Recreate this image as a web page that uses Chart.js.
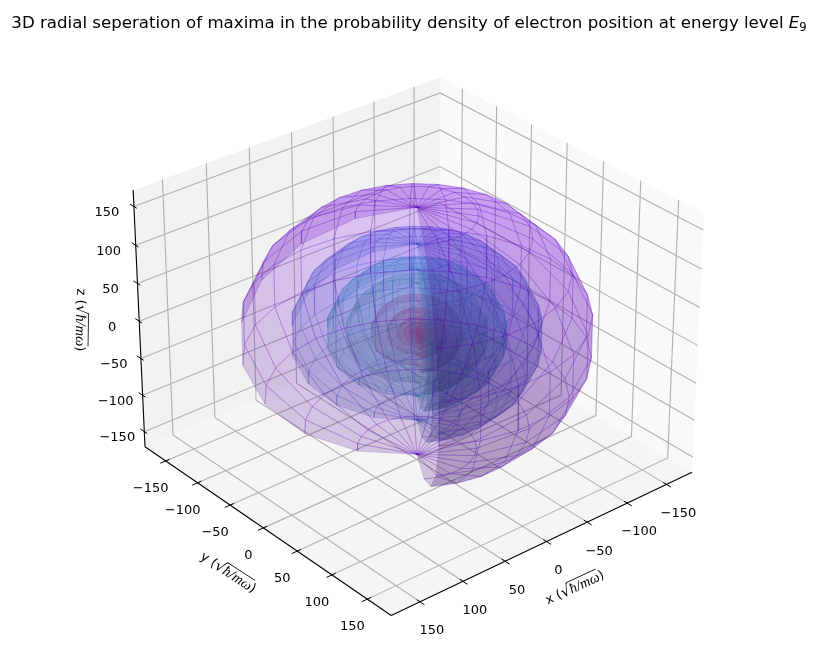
<!DOCTYPE html>
<html>
<head>
<meta charset="utf-8">
<title>Radial maxima</title>
<script src="https://cdn.jsdelivr.net/npm/chart.js@4/dist/chart.umd.min.js"></script>
<style>
  html, body { margin: 0; padding: 0; background: #fff; }
  canvas { display: block; }
</style>
</head>
<body>
<canvas id="chart_canvas" width="816" height="660"></canvas>
<script>
const title_text = "3D radial seperation of maxima in the probability density of electron position at energy level";
const tick_values = [-150, -100, -50, 0, 50, 100, 150];

// shell radii, outer to inner
const shell_radii = [164, 117, 84, 66, 43, 28, 18, 12, 7, 3];
const shell_colors = [
    [128, 0, 255], [60, 110, 255], [30, 205, 215], [140, 225, 170], [245, 110, 110],
    [255, 60, 70], [255, 50, 60], [255, 30, 40], [255, 0, 0], [255, 0, 0]
];
const shell_edge_widths = [0.8, 0.7, 0.6, 0.5, 0.4, 0.4, 0.3, 0.3, 0.3, 0.3];
const shell_alpha = 0.2;
const edge_alpha = 0.24;
const edge_dim = 0.72;
const phi_start_deg = 57;
const phi_span_deg = 270;
const phi_steps = 20;
const lat_steps = 9;

const x_lim = [-183, 183];
const y_lim = [-183, 183];
const z_lim = [-171, 171];
const box_aspect = [4, 4, 3];
const elev_deg = 30;
const azim_deg = 50;
const light_dir = [-0.667, -0.667, 0.333];

const title_pad = 14;
const title_size = 16.64;
const title_h = title_pad * 2 + title_size * 1.2;

// ---- mplot3d style camera ----
const aspect_norm = Math.hypot(box_aspect[0], box_aspect[1], box_aspect[2]);
const box = box_aspect.map(a => a * 1.8294640721620434 / aspect_norm);
const el = elev_deg * Math.PI / 180, az = azim_deg * Math.PI / 180;
const cam_dist = 10;
const fwd = [Math.cos(el) * Math.cos(az), Math.cos(el) * Math.sin(az), Math.sin(el)];
const right_v = norm3(cross3([0, 0, 1], fwd));
const up_v = cross3(fwd, right_v);

function cross3(a, b) {
    return [a[1] * b[2] - a[2] * b[1], a[2] * b[0] - a[0] * b[2], a[0] * b[1] - a[1] * b[0]];
}
function norm3(a) {
    const n = Math.hypot(a[0], a[1], a[2]);
    return [a[0] / n, a[1] / n, a[2] / n];
}
function dot3(a, b) {
    return a[0] * b[0] + a[1] * b[1] + a[2] * b[2];
}

function project_raw(x, y, z) {
    const p = [
        ((x - x_lim[0]) / (x_lim[1] - x_lim[0]) - 0.5) * box[0],
        ((y - y_lim[0]) / (y_lim[1] - y_lim[0]) - 0.5) * box[1],
        ((z - z_lim[0]) / (z_lim[1] - z_lim[0]) - 0.5) * box[2]
    ];
    const w = cam_dist - dot3(p, fwd);
    return { u: dot3(p, right_v) / w, v: dot3(p, up_v) / w, depth: w };
}

// fit to where the two lower box corners sit in the picture
const corner_a = project_raw(x_lim[1], y_lim[0], z_lim[0]);
const corner_b = project_raw(x_lim[0], y_lim[1], z_lim[0]);
const px_scale = (692 - 145) / (corner_b.u - corner_a.u);
const px_off_x = 145 - corner_a.u * px_scale;
const px_off_y = (447 + 472) / 2 + (corner_a.v + corner_b.v) / 2 * px_scale;

function to_screen(x, y, z) {
    const r = project_raw(x, y, z);
    return { x: px_off_x + r.u * px_scale, y: px_off_y - r.v * px_scale, depth: r.depth };
}

function line_set(points3d, color, width) {
    return {
        data: points3d.map(p => { const s = to_screen(p[0], p[1], p[2]); return { x: s.x, y: s.y }; }),
        showLine: true, fill: false, borderColor: color, borderWidth: width, pointRadius: 0
    };
}
function poly_set(points3d, fill_color, edge_color, width) {
    const s = line_set(points3d, edge_color, width);
    s.fill = 'shape';
    s.backgroundColor = fill_color;
    return s;
}

// painter's order: first pushed is at the bottom
const layers = [];
const [x0, x1] = x_lim, [y0, y1] = y_lim, [z0, z1] = z_lim;

layers.push(poly_set([[x0, y0, z0], [x0, y1, z0], [x0, y1, z1], [x0, y0, z1], [x0, y0, z0]], 'rgb(249,249,249)', 'rgb(249,249,249)', 0));
layers.push(poly_set([[x0, y0, z0], [x1, y0, z0], [x1, y0, z1], [x0, y0, z1], [x0, y0, z0]], 'rgb(242,242,242)', 'rgb(242,242,242)', 0));
layers.push(poly_set([[x0, y0, z0], [x1, y0, z0], [x1, y1, z0], [x0, y1, z0], [x0, y0, z0]], 'rgb(245,245,245)', 'rgb(245,245,245)', 0));

const grid_color = 'rgb(176,176,176)';
tick_values.forEach(t => {
    layers.push(line_set([[t, y1, z0], [t, y0, z0], [t, y0, z1]], grid_color, 1.1));
    layers.push(line_set([[x1, t, z0], [x0, t, z0], [x0, t, z1]], grid_color, 1.1));
    layers.push(line_set([[x1, y0, t], [x0, y0, t], [x0, y1, t]], grid_color, 1.1));
});

// inner shells go down first, the outer one ends up on top
for (let s = shell_radii.length - 1; s >= 0; s--) {
    const r = shell_radii[s], col = shell_colors[s];
    const quads = [];
    const vert = (i, j) => {
        const lat = -Math.PI / 2 + Math.PI * i / lat_steps;
        const phi = (phi_start_deg + phi_span_deg * j / phi_steps) * Math.PI / 180;
        return [r * Math.cos(lat) * Math.cos(phi), r * Math.cos(lat) * Math.sin(phi), r * Math.sin(lat)];
    };
    for (let i = 0; i < lat_steps; i++) {
        for (let j = 0; j < phi_steps; j++) {
            const corners = [vert(i, j), vert(i, j + 1), vert(i + 1, j + 1), vert(i + 1, j)];
            const mid = [0, 1, 2].map(k => corners.reduce((a, c) => a + c[k], 0) / 4);
            const shade = 0.3 + 0.7 * (dot3(norm3(mid), light_dir) + 1) / 2;
            const rgb = col.map(c => Math.round(c * shade)).join(',');
            quads.push({
                corners, rgb,
                depth: to_screen(mid[0], mid[1], mid[2]).depth
            });
        }
    }
    quads.sort((a, b) => b.depth - a.depth);
    const edge_color = 'rgba(' + col.map(c => Math.round(c * edge_dim)).join(',') + ',' + edge_alpha + ')';
    quads.forEach(q => {
        layers.push(poly_set(q.corners.concat([q.corners[0]]),
            'rgba(' + q.rgb + ',' + shell_alpha + ')',
            edge_color, shell_edge_widths[s]));
    });
}

// axis lines and tick marks
const tick_out = 0.017, tick_in = 0.012;
const black = 'rgb(0,0,0)';
layers.push(line_set([[x1, y0, z0], [x1, y0, z1]], black, 1.1));
layers.push(line_set([[x1, y0, z0], [x1, y1, z0]], black, 1.1));
layers.push(line_set([[x1, y1, z0], [x0, y1, z0]], black, 1.1));
const dx = x1 - x0, dy = y1 - y0;
tick_values.forEach(t => {
    layers.push(line_set([[t, y1 + dy * tick_out, z0], [t, y1 - dy * tick_in, z0]], black, 1));
    layers.push(line_set([[x1 + dx * tick_out, t, z0], [x1 - dx * tick_in, t, z0]], black, 1));
    layers.push(line_set([[x1, y0 - dy * tick_out, t], [x1, y0 + dy * tick_in, t]], black, 1));
});

function tick_name(t) {
    return t < 0 ? '\u2212' + Math.abs(t) : String(t);
}

function draw_axis_label(ctx, px, py, deg, name) {
    const sans = '13px "DejaVu Sans"';
    const serif = 'italic 14.5px "Liberation Serif"';
    const root = '15px "DejaVu Sans"';
    const parts = [[sans, name + ' ('], [root, '\u221A'], [serif, '\u0127/m\u03C9'], [sans, ')']];
    ctx.save();
    ctx.translate(px, py);
    ctx.rotate(deg * Math.PI / 180);
    ctx.textAlign = 'left';
    ctx.textBaseline = 'middle';
    let total = 0;
    parts.forEach(p => { ctx.font = p[0]; total += ctx.measureText(p[1]).width; });
    let cur = -total / 2;
    parts.forEach((p, i) => {
        ctx.font = p[0];
        const w = ctx.measureText(p[1]).width;
        ctx.fillText(p[1], cur, 0);
        if (i === 2) {
            ctx.beginPath();
            ctx.moveTo(cur - 1, -8.5);
            ctx.lineTo(cur + w, -8.5);
            ctx.lineWidth = 0.8;
            ctx.strokeStyle = '#000';
            ctx.stroke();
        }
        cur += w;
    });
    ctx.restore();
}

const text_plugin = {
    id: 'text_plugin',
    afterDraw(chart) {
        const ctx = chart.ctx;
        ctx.save();
        ctx.fillStyle = '#000';
        ctx.font = '13px "DejaVu Sans"';
        ctx.textAlign = 'center';
        ctx.textBaseline = 'middle';
        tick_values.forEach(t => {
            let p = to_screen(x1, y0, t);
            ctx.fillText(tick_name(t), p.x - 27, p.y + 6);
            p = to_screen(x1, t, z0);
            ctx.fillText(tick_name(t), p.x - 15, p.y + 27.5);
            p = to_screen(t, y1, z0);
            ctx.fillText(tick_name(t), p.x + 12, p.y + 29);
        });
        draw_axis_label(ctx, 575, 588, -25, 'x');
        draw_axis_label(ctx, 228, 573, 33, 'y');
        draw_axis_label(ctx, 80, 320, 91, 'z');

        // italic E with subscript 9 after the title
        ctx.font = title_size + 'px "DejaVu Sans"';
        ctx.textAlign = 'left';
        const full_w = ctx.measureText(title_text + title_tail).width;
        const main_w = ctx.measureText(title_text + ' ').width;
        const start_x = 408 - full_w / 2 + main_w;
        const mid_y = title_pad + title_size * 0.6;
        ctx.font = 'italic ' + title_size + 'px "DejaVu Sans"';
        ctx.fillText('E', start_x, mid_y);
        const e_w = ctx.measureText('E').width;
        ctx.font = (title_size * 0.7) + 'px "DejaVu Sans"';
        ctx.fillText('9', start_x + e_w, mid_y + 3.5);
        ctx.restore();
    }
};

const title_tail = '\u00A0\u00A0\u00A0\u00A0';

new Chart(document.getElementById('chart_canvas').getContext('2d'), {
    type: 'scatter',
    data: { datasets: layers.reverse() },
    plugins: [text_plugin],
    options: {
        responsive: false,
        animation: false,
        devicePixelRatio: 1,
        parsing: false,
        normalized: true,
        events: [],
        layout: { padding: 0 },
        plugins: {
            legend: { display: false },
            tooltip: { enabled: false },
            title: {
                display: true,
                text: title_text + title_tail,
                color: '#000',
                padding: { top: title_pad, bottom: title_pad },
                font: { family: '"DejaVu Sans"', size: title_size, weight: 'normal', lineHeight: 1.2 }
            }
        },
        scales: {
            x: { type: 'linear', display: false, min: 0, max: 816 },
            y: { type: 'linear', display: false, min: title_h, max: 660, reverse: true }
        }
    }
});
</script>
</body>
</html>
